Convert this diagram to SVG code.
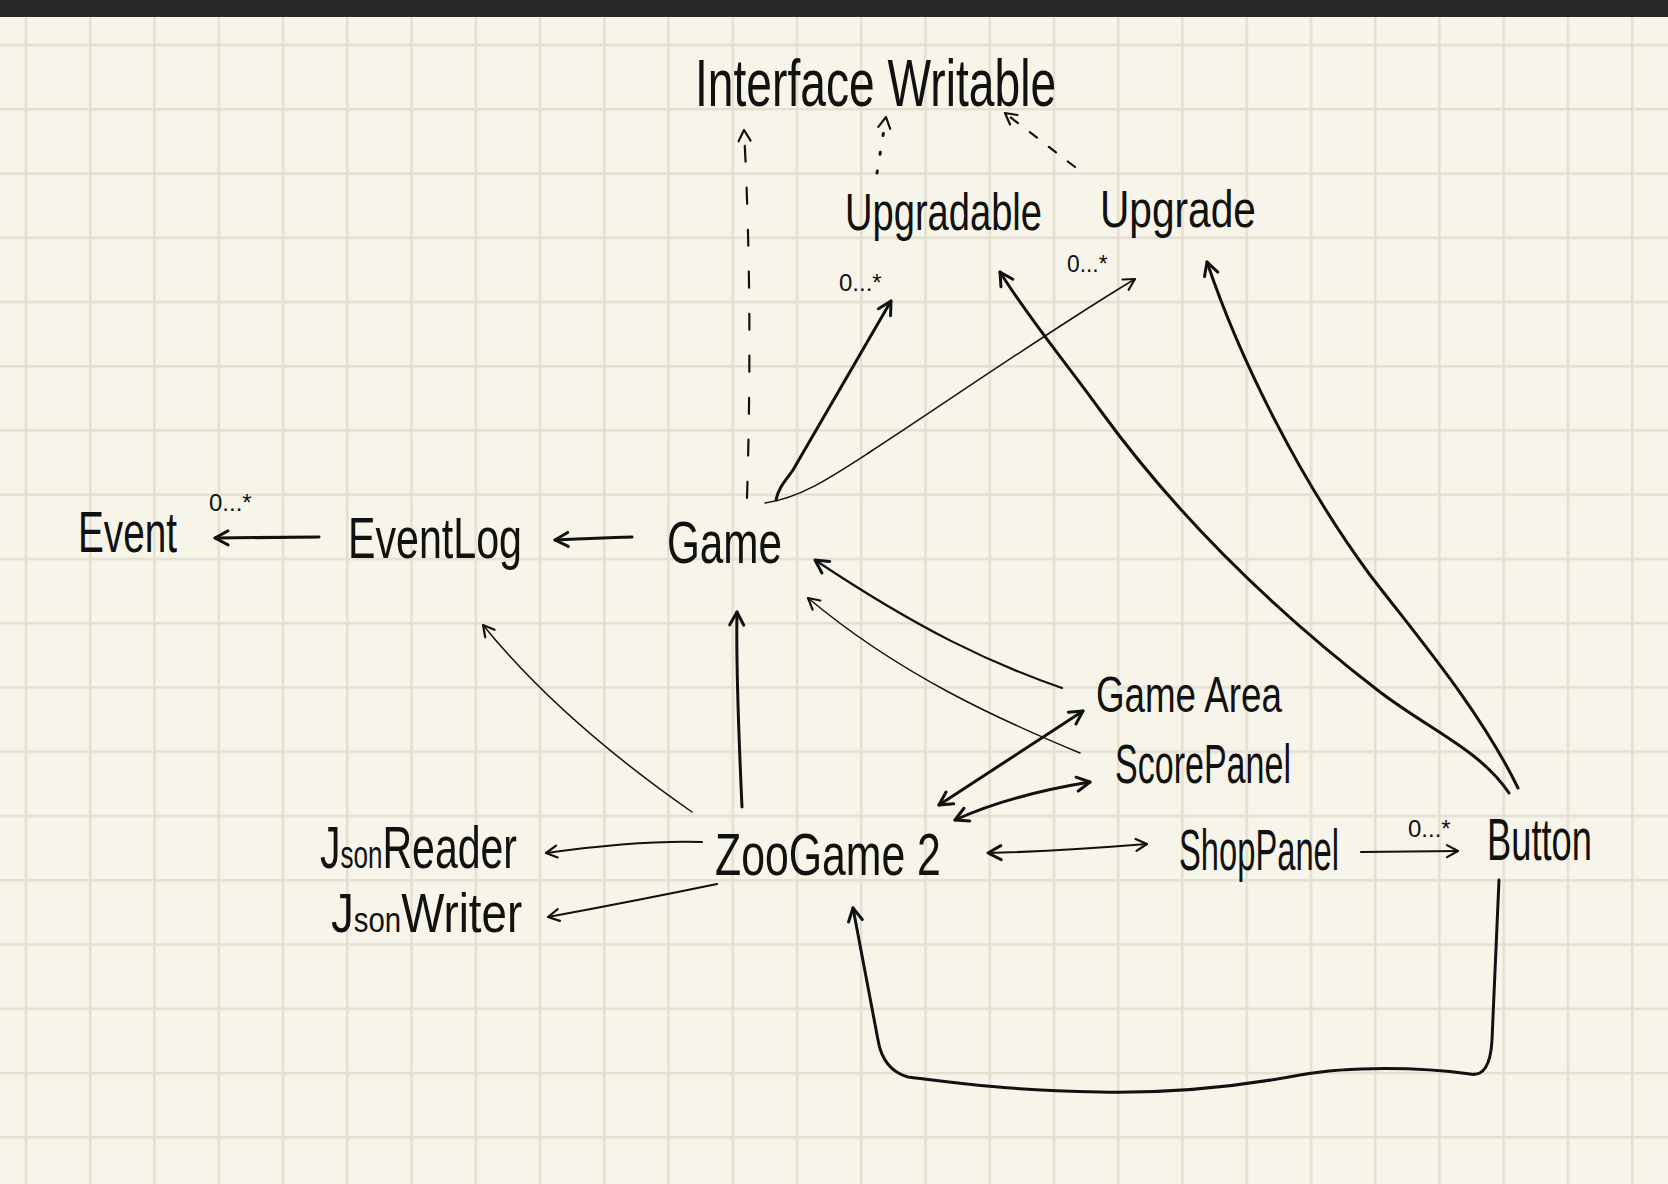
<svg xmlns="http://www.w3.org/2000/svg" width="1668" height="1184" viewBox="0 0 1668 1184">
<defs>
<pattern id="grid" x="24.75" y="43.75" width="64.25" height="64.25" patternUnits="userSpaceOnUse">
<rect x="0" y="0" width="2.5" height="64.25" fill="#e3e0d2"/>
<rect x="0" y="0" width="64.25" height="2.5" fill="#e3e0d2"/>
</pattern>
<marker id="ah" markerUnits="userSpaceOnUse" markerWidth="40" markerHeight="40" viewBox="-20 -20 40 40" refX="0" refY="0" orient="auto-start-reverse" overflow="visible">
<path d="M-13,-7 L0,0 L-13,7" fill="none" stroke="#111" stroke-width="3" stroke-linecap="round" stroke-linejoin="round"/>
</marker>
<marker id="aht" markerUnits="userSpaceOnUse" markerWidth="40" markerHeight="40" viewBox="-20 -20 40 40" refX="0" refY="0" orient="auto-start-reverse" overflow="visible">
<path d="M-11,-6 L0,0 L-11,6" fill="none" stroke="#111" stroke-width="2.2" stroke-linecap="round" stroke-linejoin="round"/>
</marker>
</defs>
<style>
.lbl{font-family:"Liberation Sans",Arial,sans-serif;fill:#111;}
.mult{font-family:"Liberation Sans",Arial,sans-serif;fill:#111;font-size:24px;}
.c{fill:none;stroke:#111;stroke-linecap:round;stroke-linejoin:round;}
.thick{stroke-width:3;}
.mid{stroke-width:2.2;}
.thin{stroke-width:1.5;}
</style>
<rect x="0" y="0" width="1668" height="1184" fill="#f7f5e9"/>
<rect x="0" y="0" width="1668" height="1184" fill="url(#grid)"/>
<rect x="0" y="0" width="1668" height="17" fill="#29292c"/>

<g id="connectors">
<path class="c mid" d="M747,498 Q753,300 744,130" stroke-dasharray="16 26" marker-end="url(#aht)"/>
<path class="c thick" d="M877,173 L886,117" stroke-dasharray="2 17" marker-end="url(#aht)"/>
<path class="c mid" d="M1075,167 L1005,113" stroke-dasharray="9 15" marker-end="url(#aht)"/>
<path class="c thick" d="M776,500 C778,488 786,480 793,470 L891,301" marker-end="url(#ah)"/>
<path class="c thin" d="M765,503 C800,498 830,478 870,452 C950,400 1050,330 1135,279" marker-end="url(#aht)"/>
<path class="c thick" d="M319,537 L215,538" marker-end="url(#ah)"/>
<path class="c thick" d="M632,537 Q600,538 555,540" marker-end="url(#ah)"/>
<path class="c thin" d="M692,812 Q560,720 483,625" marker-end="url(#aht)"/>
<path class="c thick" d="M742,807 C738,720 736,660 737,612" marker-end="url(#ah)"/>
<path class="c mid" d="M1062,688 C990,663 920,630 815,560" marker-end="url(#ah)"/>
<path class="c thin" d="M1080,753 C1000,720 900,675 808,598" marker-end="url(#aht)"/>
<path class="c thick" d="M939,805 L1083,711" marker-start="url(#ah)" marker-end="url(#ah)"/>
<path class="c thick" d="M955,820 Q1010,795 1090,782" marker-start="url(#ah)" marker-end="url(#ah)"/>
<path class="c mid" d="M988,853 Q1060,851 1147,844" marker-start="url(#ah)" marker-end="url(#aht)"/>
<path class="c mid" d="M1361,852 L1458,851" marker-end="url(#aht)"/>
<path class="c mid" d="M702,842 Q640,840 546,853" marker-end="url(#aht)"/>
<path class="c mid" d="M717,884 Q640,900 548,917" marker-end="url(#aht)"/>
<path class="c thick" d="M1509,793 C1480,750 1430,730 1380,692 C1280,615 1180,520 1100,410 C1060,355 1030,320 1000,272" marker-end="url(#ah)"/>
<path class="c thick" d="M1518,788 C1480,710 1420,640 1370,575 C1300,480 1240,360 1207,262" marker-end="url(#ah)"/>
<path class="c thick" d="M1499,880 L1492,1040 Q1490,1078 1470,1074 C1420,1067 1350,1066 1300,1075 C1220,1090 1150,1093 1100,1092 C1000,1090 950,1082 908,1077 Q883,1070 878,1040 L853,908" marker-end="url(#ah)"/>
</g>

<g id="node-writable"><text class="lbl" transform="translate(695,106) scale(0.700,1)" font-size="66">Interface Writable</text></g>
<g id="node-upgradable"><text class="lbl" transform="translate(845,230) scale(0.733,1)" font-size="52">Upgradable</text></g>
<g id="node-upgrade"><text class="lbl" transform="translate(1100,227) scale(0.782,1)" font-size="52">Upgrade</text></g>
<g id="node-event"><text class="lbl" transform="translate(78,552) scale(0.668,1)" font-size="58">Event</text></g>
<g id="node-eventlog"><text class="lbl" transform="translate(348,558) scale(0.710,1)" font-size="58">EventLog</text></g>
<g id="node-game"><text class="lbl" transform="translate(667,563) scale(0.704,1)" font-size="60">Game</text></g>
<g id="node-gamearea"><text class="lbl" transform="translate(1096,712) scale(0.735,1)" font-size="50">Game Area</text></g>
<g id="node-scorepanel"><text class="lbl" transform="translate(1115,783) scale(0.608,1)" font-size="56">ScorePanel</text></g>
<g id="node-jsonreader"><text class="lbl" transform="translate(320,868) scale(0.684,1)" font-size="60">J<tspan font-size="38">son</tspan>Reader</text></g>
<g id="node-jsonwriter"><text class="lbl" transform="translate(331,932) scale(0.816,1)" font-size="56">J<tspan font-size="36">son</tspan>Writer</text></g>
<g id="node-zoogame2"><text class="lbl" transform="translate(715,875) scale(0.713,1)" font-size="60">ZooGame 2</text></g>
<g id="node-shoppanel"><text class="lbl" transform="translate(1179,870) scale(0.564,1)" font-size="58">ShopPanel</text></g>
<g id="node-button"><text class="lbl" transform="translate(1487,860) scale(0.605,1)" font-size="60">Button</text></g>

<g id="multiplicities">
<text class="mult" x="839" y="291">0...*</text>
<text class="mult" x="1067" y="272" transform="translate(1067,272) scale(0.95,1) translate(-1067,-272)">0...*</text>
<text class="mult" x="209" y="511">0...*</text>
<text class="mult" x="1408" y="837">0...*</text>
</g>
</svg>
